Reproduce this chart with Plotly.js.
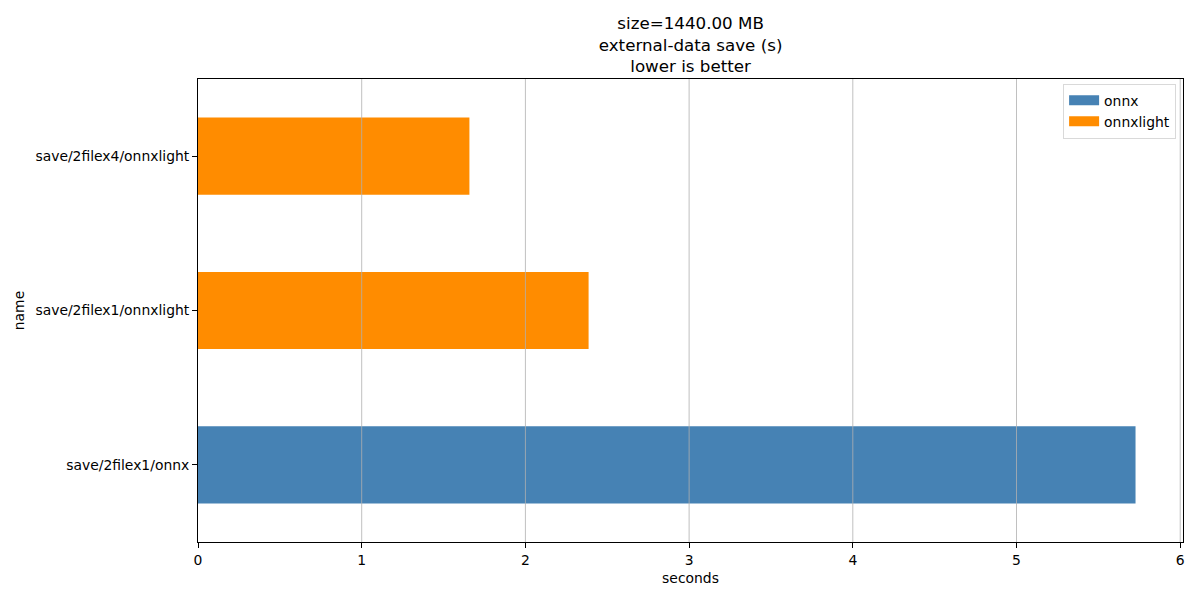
<!DOCTYPE html>
<html><head><meta charset="utf-8">
<script src="https://cdn.plot.ly/plotly-3.0.1.min.js"></script>
<style>html,body{margin:0;padding:0;background:#fff}#chart{width:1200px;height:600px}</style>
</head><body><div id="chart"></div>
<script>
const categories = ["save/2filex1/onnx", "save/2filex1/onnxlight", "save/2filex4/onnxlight"];
const onnxNames = ["save/2filex1/onnx"];
const onnxValues = [5.727];
const onnxlightNames = ["save/2filex1/onnxlight", "save/2filex4/onnxlight"];
const onnxlightValues = [2.386, 1.658];
const xTicks = [0, 1, 2, 3, 4, 5, 6];
const titleLines = ["size=1440.00 MB", "external-data save (s)", "lower is better"];

const font = {family: "DejaVu Sans", size: 13.9, color: "#000"};
const xRange = [0, 6.017];
const colors = {onnx: "#4682b4", onnxlight: "#ff8c00"};

const traces = [
  {type: "bar", orientation: "h", name: "onnx", y: onnxNames, x: onnxValues,
   marker: {color: colors.onnx, line: {width: 0}}, width: 0.5, showlegend: false},
  {type: "bar", orientation: "h", name: "onnxlight", y: onnxlightNames, x: onnxlightValues,
   marker: {color: colors.onnxlight, line: {width: 0}}, width: 0.5, showlegend: false},
  // legend entries drawn as wide patches
  {type: "scatter", mode: "lines", name: "onnx", x: [null], y: [null],
   line: {color: colors.onnx, width: 10}, showlegend: true},
  {type: "scatter", mode: "lines", name: "onnxlight", x: [null], y: [null],
   line: {color: colors.onnxlight, width: 10}, showlegend: true}
];

const gridShapes = xTicks.filter(v => v > xRange[0] && v < xRange[1]).map(v => ({
  type: "line", xref: "x", yref: "paper", x0: v, x1: v, y0: 0, y1: 1,
  line: {color: "#b0b0b0", width: 0.8}, layer: "above"
}));

const layout = {
  width: 1200, height: 600,
  margin: {l: 198, r: 17, t: 79, b: 58, pad: 0},
  paper_bgcolor: "#fff", plot_bgcolor: "#fff",
  font: font,
  barmode: "overlay",
  showlegend: true,
  title: {
    text: titleLines.join("<br>"),
    font: {family: "DejaVu Sans", size: 16.7, color: "#000"},
    x: 0.5755, xanchor: "center", xref: "container",
    y: 1 - 29/600, yanchor: "top", yref: "container"
  },
  xaxis: {
    range: xRange, tickvals: xTicks, ticktext: xTicks.map(String),
    showgrid: false, zeroline: false,
    showline: true, linecolor: "#000", linewidth: 1, mirror: true,
    ticks: "outside", ticklen: 5, tickwidth: 1, tickcolor: "#000",
    tickfont: font,
    title: {text: "seconds", font: font, standoff: 6},
    fixedrange: true
  },
  yaxis: {
    type: "category", categoryorder: "array", categoryarray: categories,
    range: [-0.5, 2.5],
    showgrid: false, zeroline: false,
    showline: true, linecolor: "#000", linewidth: 1, mirror: true,
    ticks: "outside", ticklen: 5, tickwidth: 1, tickcolor: "#000",
    tickfont: font,
    title: {text: "name", font: font, standoff: 7},
    fixedrange: true
  },
  legend: {
    x: 0.993, xanchor: "right", y: 0.99, yanchor: "top",
    bordercolor: "#d9d9d9", borderwidth: 1, bgcolor: "rgba(255,255,255,0.8)",
    font: font, itemwidth: 30, tracegroupgap: 0
  },
  shapes: gridShapes
};

Plotly.newPlot("chart", traces, layout, {displayModeBar: false, staticPlot: true});
</script>
</body></html>
